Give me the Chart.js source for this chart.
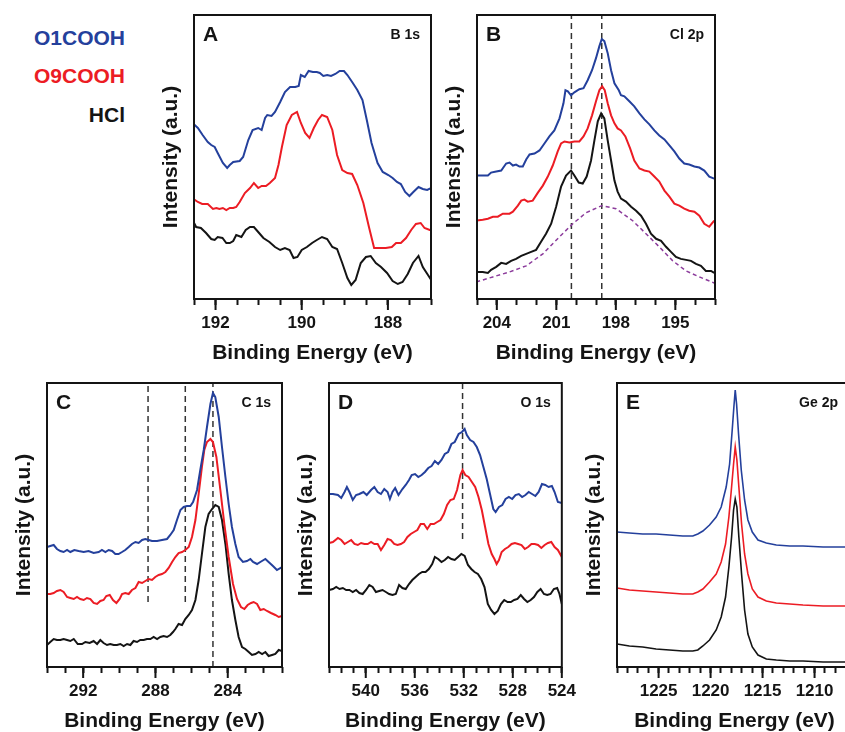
<!DOCTYPE html>
<html>
<head>
<meta charset="utf-8">
<script src="https://cdn.jsdelivr.net/npm/chart.js@4.4.1/dist/chart.umd.min.js"></script>
<style>
  html, body { margin: 0; padding: 0; background: #fff; overflow: hidden; }
  #wrap { position: relative; width: 845px; height: 732px; overflow: hidden; }
  #wrap canvas { position: absolute; }
  .key { position: absolute; left: 0; width: 125px; text-align: right; line-height: 24px;
         font: bold 21px "Liberation Sans", Arial, sans-serif; }
</style>
</head>
<body>
<div id="wrap">
  <div class="key" style="top:26px; color:#24409c">O1COOH</div>
  <div class="key" style="top:64px; color:#ec1c24">O9COOH</div>
  <div class="key" style="top:103px; color:#141414">HCl</div>
</div>
<script>
// ---- data: [binding energy (eV), intensity (a.u.)] ----
const seriesNames = ['O1COOH', 'O9COOH', 'HCl'];

// A: B 1s
const A_O1COOH = [[192.51,175],[192.41,171],[192.30,164],[192.18,157],[192.10,154],[192.02,152],[191.95,146],[191.83,136],[191.73,131],[191.67,134],[191.59,137],[191.44,138],[191.36,142],[191.24,159],[191.14,169],[191.01,171],[190.93,169],[190.85,181],[190.80,184],[190.70,183],[190.62,187],[190.50,197],[190.39,207],[190.27,212],[190.15,212],[190.07,213],[190.02,224],[189.93,222],[189.84,228],[189.74,227],[189.65,227],[189.58,226],[189.50,223],[189.41,224],[189.32,223],[189.22,225],[189.12,228],[189.02,228],[188.94,224],[188.83,217],[188.71,209],[188.59,199],[188.49,179],[188.38,156],[188.24,136],[188.12,127],[187.99,124],[187.89,121],[187.79,117],[187.70,115],[187.60,107],[187.50,103],[187.41,107],[187.29,112],[187.19,110],[187.09,109],[186.99,111]];
const A_O9COOH = [[192.51,100],[192.41,97],[192.31,95],[192.18,95],[192.06,90],[191.98,91],[191.91,90],[191.83,91],[191.75,89],[191.67,91],[191.59,91],[191.52,92],[191.44,97],[191.32,106],[191.20,111],[191.11,116],[191.01,111],[190.93,113],[190.83,113],[190.74,116],[190.62,121],[190.54,134],[190.46,152],[190.35,174],[190.23,184],[190.11,187],[190.02,176],[189.92,166],[189.82,161],[189.72,171],[189.62,179],[189.53,184],[189.41,182],[189.29,169],[189.18,144],[189.06,129],[188.94,126],[188.83,125],[188.71,114],[188.57,96],[188.44,72],[188.32,51],[188.16,51],[188.05,51],[187.91,52],[187.81,56],[187.70,56],[187.58,61],[187.46,69],[187.35,75],[187.24,76],[187.15,71],[187.03,69],[186.98,69]];
const A_HCl = [[192.51,77],[192.45,72],[192.34,71],[192.22,66],[192.10,60],[192.02,59],[191.95,62],[191.84,61],[191.75,56],[191.67,56],[191.59,58],[191.52,64],[191.40,62],[191.30,69],[191.20,72],[191.11,72],[191.01,67],[190.89,61],[190.75,57],[190.62,52],[190.50,49],[190.39,51],[190.28,49],[190.19,41],[190.10,42],[190.00,49],[189.88,52],[189.76,56],[189.65,59],[189.53,62],[189.41,60],[189.29,52],[189.18,50],[189.06,36],[188.94,21],[188.85,14],[188.75,19],[188.63,36],[188.51,42],[188.40,43],[188.28,36],[188.16,32],[188.02,26],[187.89,18],[187.77,15],[187.66,17],[187.54,25],[187.42,36],[187.29,43],[187.19,32],[187.07,24],[186.98,18]];

// B: Cl 2p
const B_O1COOH = [[205.04,123],[204.71,123],[204.45,123],[204.29,126],[204.03,127],[203.78,128],[203.53,135],[203.36,136],[203.19,133],[203.03,134],[202.86,132],[202.69,132],[202.52,139],[202.35,144],[202.10,145],[201.85,148],[201.60,155],[201.35,162],[201.10,168],[200.84,180],[200.64,195],[200.54,208],[200.42,207],[200.26,203],[200.09,206],[199.84,209],[199.63,210],[199.42,218],[199.20,228],[199.00,240],[198.83,252],[198.71,259],[198.58,257],[198.41,245],[198.24,228],[198.07,215],[197.85,208],[197.74,203],[197.57,202],[197.32,197],[197.07,192],[196.81,185],[196.56,179],[196.31,174],[196.06,168],[195.81,163],[195.55,159],[195.30,153],[195.05,147],[194.80,140],[194.55,135],[194.30,134],[194.04,132],[193.79,131],[193.54,128],[193.29,122],[193.04,120]];
const B_O9COOH = [[205.04,78],[204.71,79],[204.45,80],[204.20,82],[203.95,82],[203.70,85],[203.36,85],[203.19,87],[202.94,93],[202.77,98],[202.61,99],[202.44,97],[202.19,98],[201.93,106],[201.68,113],[201.43,122],[201.18,133],[200.93,147],[200.76,155],[200.59,157],[200.34,156],[200.09,157],[199.84,157],[199.63,162],[199.42,170],[199.20,183],[199.00,197],[198.83,208],[198.69,212],[198.56,208],[198.41,195],[198.24,183],[198.07,175],[197.91,170],[197.74,168],[197.52,162],[197.28,150],[197.07,138],[196.81,130],[196.56,128],[196.31,127],[196.06,122],[195.81,117],[195.55,108],[195.30,102],[195.05,95],[194.80,93],[194.55,90],[194.30,88],[194.04,87],[193.79,83],[193.54,75],[193.29,72],[193.04,78]];
const B_HCl = [[205.04,27],[204.71,27],[204.45,26],[204.29,29],[204.03,32],[203.78,36],[203.53,35],[203.28,38],[203.03,40],[202.77,43],[202.52,45],[202.27,47],[202.02,49],[201.77,57],[201.52,65],[201.26,75],[201.01,92],[200.76,112],[200.51,123],[200.26,128],[200.09,123],[199.87,116],[199.67,115],[199.47,122],[199.25,138],[199.08,158],[198.91,177],[198.74,185],[198.58,180],[198.41,158],[198.24,138],[198.07,118],[197.91,107],[197.74,100],[197.49,97],[197.23,92],[196.98,88],[196.73,83],[196.48,75],[196.23,65],[195.97,60],[195.72,58],[195.47,52],[195.22,47],[194.97,42],[194.72,40],[194.46,39],[194.21,38],[193.96,35],[193.71,33],[193.46,28],[193.20,28],[193.04,26]];
const B_background = [[205.04,17],[204.20,22],[203.36,27],[202.52,33],[201.68,45],[200.84,62],[200.17,75],[199.50,86],[198.71,93],[197.99,90],[197.15,78],[196.48,65],[195.81,52],[195.13,38],[194.46,28],[193.79,22],[193.04,16]];
const B_marks = [200.24, 198.71];

// C: C 1s
const C_O1COOH = [[294.00,120],[293.82,121],[293.63,122],[293.45,118],[293.26,116],[293.08,115],[292.89,117],[292.71,115],[292.49,117],[292.25,116],[291.97,115],[291.70,116],[291.42,114],[291.14,115],[290.96,117],[290.77,115],[290.59,117],[290.40,116],[290.22,113],[290.04,113],[289.85,115],[289.67,117],[289.48,120],[289.30,123],[289.11,125],[288.93,124],[288.74,127],[288.56,128],[288.38,127],[288.19,126],[287.91,126],[287.64,127],[287.36,128],[287.18,132],[286.99,137],[286.81,147],[286.62,157],[286.44,160],[286.26,161],[286.07,161],[285.92,165],[285.70,177],[285.52,197],[285.33,217],[285.15,240],[284.96,263],[284.82,274],[284.69,270],[284.50,250],[284.32,220],[284.13,190],[283.95,163],[283.77,140],[283.58,123],[283.40,110],[283.16,105],[282.94,106],[282.75,108],[282.60,105],[282.38,103],[282.20,105],[281.92,108],[281.74,105],[281.50,101],[281.28,97],[281.00,100]];
const C_O9COOH = [[294.00,73],[293.82,73],[293.63,74],[293.45,76],[293.26,77],[293.08,75],[292.89,70],[292.71,69],[292.52,68],[292.34,70],[292.16,68],[291.97,67],[291.79,69],[291.60,68],[291.42,64],[291.23,63],[291.05,66],[290.87,67],[290.72,71],[290.53,72],[290.35,67],[290.16,64],[289.98,68],[289.85,73],[289.67,74],[289.48,73],[289.30,77],[289.11,79],[288.93,85],[288.74,84],[288.56,86],[288.38,88],[288.19,87],[288.01,90],[287.82,92],[287.64,93],[287.45,95],[287.27,99],[287.08,105],[286.90,110],[286.72,114],[286.53,115],[286.35,117],[286.16,120],[285.98,130],[285.79,147],[285.61,173],[285.43,200],[285.30,217],[285.15,225],[284.96,228],[284.82,225],[284.63,210],[284.41,177],[284.19,143],[283.95,110],[283.71,83],[283.49,68],[283.27,60],[283.08,58],[282.90,62],[282.71,64],[282.57,65],[282.38,63],[282.20,57],[282.01,58],[281.83,56],[281.61,54],[281.37,52],[281.18,50],[281.00,51]];
const C_HCl = [[294.00,22],[293.82,25],[293.63,28],[293.45,27],[293.26,27],[293.08,28],[292.89,27],[292.71,26],[292.52,28],[292.30,23],[292.06,23],[291.88,25],[291.64,24],[291.42,26],[291.23,23],[291.05,27],[290.87,24],[290.68,22],[290.50,23],[290.31,22],[290.13,22],[289.94,23],[289.76,21],[289.57,23],[289.39,22],[289.21,26],[289.02,25],[288.84,27],[288.65,27],[288.47,28],[288.28,28],[288.10,30],[287.91,28],[287.73,30],[287.55,31],[287.36,30],[287.18,32],[287.03,35],[286.90,38],[286.72,43],[286.53,42],[286.35,48],[286.16,52],[285.98,57],[285.79,67],[285.61,87],[285.43,113],[285.24,140],[285.06,153],[284.87,158],[284.69,162],[284.50,160],[284.32,147],[284.13,123],[283.95,93],[283.77,67],[283.58,47],[283.40,30],[283.21,20],[283.03,18],[282.84,15],[282.66,12],[282.47,13],[282.29,15],[282.10,13],[281.92,15],[281.74,11],[281.55,12],[281.37,13],[281.18,17],[281.00,16]];
const C_marks = [288.41, 286.35, 284.82];
const C_markFrom = [65, 65, 0];

// D: O 1s
const D_O1COOH = [[543.00,173],[542.68,173],[542.27,172],[542.00,169],[541.73,175],[541.54,180],[541.33,175],[541.06,167],[540.79,172],[540.52,173],[540.19,175],[539.92,172],[539.57,177],[539.30,180],[539.03,175],[538.76,173],[538.49,178],[538.22,175],[538.03,168],[537.82,175],[537.60,179],[537.33,172],[537.01,178],[536.74,182],[536.47,187],[536.25,192],[535.98,193],[535.71,190],[535.44,192],[535.17,195],[534.90,199],[534.63,201],[534.36,206],[534.09,203],[533.82,207],[533.55,213],[533.28,215],[533.01,223],[532.74,225],[532.42,233],[532.15,235],[531.93,238],[531.75,232],[531.48,227],[531.21,225],[530.94,220],[530.67,212],[530.40,200],[530.13,188],[529.86,173],[529.59,158],[529.40,155],[529.13,160],[528.86,162],[528.59,168],[528.32,170],[528.05,168],[527.78,172],[527.51,173],[527.24,170],[526.97,172],[526.70,175],[526.43,173],[526.16,171],[525.89,175],[525.62,183],[525.35,182],[525.08,180],[524.81,181],[524.59,175],[524.32,165],[524.00,164]];
const D_O9COOH = [[543.00,124],[542.68,125],[542.27,129],[542.00,127],[541.73,123],[541.46,125],[541.19,127],[540.92,123],[540.65,122],[540.38,124],[540.11,123],[539.84,123],[539.57,125],[539.30,123],[539.03,123],[538.76,117],[538.49,122],[538.22,128],[537.95,127],[537.68,123],[537.41,122],[537.14,123],[536.87,125],[536.60,130],[536.33,133],[536.06,135],[535.79,137],[535.52,143],[535.25,143],[534.98,138],[534.71,143],[534.44,143],[534.17,145],[533.90,147],[533.63,153],[533.36,162],[533.09,167],[532.82,168],[532.55,177],[532.28,192],[532.10,197],[531.88,192],[531.61,190],[531.34,185],[531.07,180],[530.80,170],[530.53,157],[530.26,140],[529.99,123],[529.72,113],[529.50,108],[529.32,103],[529.13,107],[528.91,115],[528.64,118],[528.37,120],[528.10,123],[527.83,124],[527.56,123],[527.29,122],[527.02,118],[526.75,120],[526.48,123],[526.21,123],[525.94,122],[525.67,119],[525.40,122],[525.13,124],[524.86,125],[524.59,120],[524.32,117],[524.00,110]];
const D_HCl = [[543.00,77],[542.68,78],[542.41,80],[542.14,78],[541.87,79],[541.60,77],[541.33,77],[541.06,75],[540.79,77],[540.52,74],[540.25,73],[539.98,77],[539.71,82],[539.44,80],[539.17,75],[538.90,76],[538.63,77],[538.36,75],[538.09,73],[537.82,72],[537.55,73],[537.28,82],[537.01,79],[536.74,78],[536.47,83],[536.20,87],[535.93,90],[535.66,93],[535.39,95],[535.12,95],[534.85,98],[534.58,103],[534.36,110],[534.09,108],[533.82,105],[533.55,107],[533.28,110],[533.01,108],[532.74,107],[532.47,110],[532.20,113],[531.93,111],[531.66,102],[531.39,98],[531.12,95],[530.85,93],[530.58,88],[530.31,80],[530.04,63],[529.77,57],[529.50,53],[529.23,56],[528.97,63],[528.70,67],[528.43,65],[528.16,65],[527.89,67],[527.62,68],[527.35,72],[527.08,68],[526.81,65],[526.54,67],[526.27,70],[526.00,75],[525.73,78],[525.46,73],[525.19,72],[524.92,73],[524.65,78],[524.38,79],[524.19,73],[524.00,63]];
const D_marks = [532.1];
const D_markFrom = [128];

// E: Ge 2p
const E_O1COOH = [[1229.00,135],[1227.81,134],[1226.53,133],[1225.24,133],[1223.96,132],[1222.67,131],[1221.71,131],[1221.23,133],[1220.74,136],[1220.10,142],[1219.46,150],[1218.98,160],[1218.50,180],[1218.17,203],[1217.92,237],[1217.76,260],[1217.63,277],[1217.50,263],[1217.31,233],[1217.05,197],[1216.73,167],[1216.41,147],[1215.99,135],[1215.44,127],[1214.64,124],[1213.68,122],[1212.39,121],[1211.11,121],[1209.18,120],[1206.40,120]];
const E_O9COOH = [[1229.00,79],[1227.81,77],[1226.53,76],[1225.24,75],[1223.96,74],[1222.67,73],[1221.71,73],[1221.23,75],[1220.74,78],[1220.10,85],[1219.46,93],[1218.98,105],[1218.56,123],[1218.24,150],[1217.98,180],[1217.79,203],[1217.63,220],[1217.47,207],[1217.28,180],[1217.02,143],[1216.73,113],[1216.41,93],[1215.99,78],[1215.44,70],[1214.64,66],[1213.68,64],[1212.39,63],[1211.11,62],[1209.18,61],[1206.40,61]];
const E_HCl = [[1229.00,23],[1227.81,21],[1226.53,20],[1225.24,18],[1223.96,17],[1222.67,16],[1221.71,16],[1221.23,17],[1220.74,21],[1220.10,27],[1219.46,37],[1218.98,50],[1218.56,70],[1218.24,100],[1217.98,130],[1217.79,157],[1217.63,168],[1217.47,160],[1217.28,130],[1217.02,93],[1216.73,57],[1216.41,33],[1215.99,20],[1215.44,12],[1214.64,8],[1213.68,7],[1212.39,6],[1211.11,6],[1209.18,5],[1206.40,5]];

// labelled ticks on each energy axis
const A_ticks = [192, 190, 188];
const B_ticks = [204, 201, 198, 195];
const C_ticks = [292, 288, 284];
const D_ticks = [540, 536, 532, 528, 524];
const E_ticks = [1225, 1220, 1215, 1210];

// ---- drawing ----
const FONT = '"Liberation Sans", Arial, Helvetica, sans-serif';
const INK = '#141414';
const COLORS = ['#24409c', '#ec1c24', INK];
Chart.defaults.font.family = FONT;
Chart.defaults.color = INK;

// plot box, long marks at labelled ticks, panel letter and core level
const frame = {
  id: 'frame',
  afterDraw(chart, args, opts) {
    const { ctx, chartArea: a, scales: { x } } = chart;
    ctx.save();
    ctx.strokeStyle = INK;
    ctx.lineWidth = 2;
    ctx.strokeRect(a.left, a.top, a.right - a.left, a.bottom - a.top);
    ctx.beginPath();
    opts.major.forEach(v => {
      const px = x.getPixelForValue(v);
      ctx.moveTo(px, a.bottom);
      ctx.lineTo(px, a.bottom + 11);
    });
    ctx.stroke();
    ctx.fillStyle = INK;
    ctx.textBaseline = 'top';
    ctx.textAlign = 'left';
    ctx.font = 'bold 21px ' + FONT;
    ctx.fillText(opts.letter, a.left + 9, a.top + 10);
    ctx.textAlign = 'right';
    ctx.font = 'bold 14px ' + FONT;
    ctx.fillText(opts.core, opts.coreRight ? a.left + opts.coreRight : a.right - 11, a.top + 13);
    ctx.restore();
  }
};

// E runs off the right edge of the figure, like the original
const panels = [
  { letter: 'A', core: 'B 1s', box: [194, 431, 15, 299], xMin: 187, xMax: 192.5, step: 0.5, major: A_ticks, yMax: 284,
    series: [A_O1COOH, A_O9COOH, A_HCl], lw: 2 },
  { letter: 'B', core: 'Cl 2p', box: [477, 715, 15, 299], xMin: 193, xMax: 205, step: 1, major: B_ticks, yMax: 283,
    series: [B_O1COOH, B_O9COOH, B_HCl], lw: 2, background: B_background, marks: B_marks, markFrom: [0, 0] },
  { letter: 'C', core: 'C 1s', box: [47, 282, 383, 667], xMin: 281, xMax: 294, step: 1, major: C_ticks, yMax: 284,
    series: [C_O1COOH, C_O9COOH, C_HCl], lw: 2, marks: C_marks, markFrom: C_markFrom },
  { letter: 'D', core: 'O 1s', box: [329, 564, 383, 667], xMin: 524, xMax: 543, step: 1, major: D_ticks, yMax: 284,
    series: [D_O1COOH, D_O9COOH, D_HCl], lw: 2, marks: D_marks, markFrom: D_markFrom },
  { letter: 'E', core: 'Ge 2p', box: [617, 852, 383, 667], xMin: 1206.4, xMax: 1229, step: 1, major: E_ticks, yMax: 284,
    series: [E_O1COOH, E_O9COOH, E_HCl], lw: 1.6, coreRight: 221 }
];

const wrap = document.getElementById('wrap');
const toXY = s => s.map(([x, y]) => ({ x, y }));

panels.forEach(p => {
  const [L, R, T, B] = p.box;
  const cv = document.createElement('canvas');
  cv.width = 35 + (R - L) + 20;
  cv.height = 5 + (B - T) + 67;
  cv.style.left = (L - 35) + 'px';
  cv.style.top = (T - 5) + 'px';
  wrap.appendChild(cv);

  const datasets = p.series.map((s, i) => ({
    label: seriesNames[i], data: toXY(s), borderColor: COLORS[i], borderWidth: p.lw
  }));
  if (p.background) {
    datasets.push({ label: 'background', data: toXY(p.background), borderColor: '#8c3c9c',
      borderWidth: 1.5, borderDash: [4, 3] });
  }
  (p.marks || []).forEach((m, i) => {
    datasets.push({ label: 'mark', data: [{ x: m, y: p.markFrom[i] }, { x: m, y: p.yMax }],
      borderColor: '#333', borderWidth: 1.5, borderDash: [6, 4] });
  });

  new Chart(cv, {
    type: 'line',
    data: { datasets },
    options: {
      responsive: false,
      animation: false,
      events: [],
      elements: { point: { radius: 0 }, line: { tension: 0 } },
      layout: { padding: { top: 5, right: 20, left: 0, bottom: 0 } },
      plugins: {
        legend: { display: false },
        tooltip: { enabled: false },
        frame: { letter: p.letter, core: p.core, major: p.major, coreRight: p.coreRight }
      },
      scales: {
        x: {
          type: 'linear', reverse: true, min: p.xMin, max: p.xMax,
          afterFit: s => { s.height = 67; },
          border: { display: false },
          grid: { drawOnChartArea: false, drawTicks: true, tickLength: 6, tickWidth: 2, tickColor: INK },
          ticks: {
            stepSize: p.step, autoSkip: false, maxRotation: 0, minRotation: 0, padding: 8,
            font: { size: 17, weight: 'bold' }, color: INK,
            callback: v => (p.major.includes(v) ? String(v) : '')
          },
          title: { display: true, text: 'Binding Energy (eV)', padding: 0,
            font: { size: 21, weight: 'bold' }, color: INK }
        },
        y: {
          type: 'linear', min: 0, max: p.yMax,
          afterFit: s => { s.width = 35; },
          border: { display: false },
          grid: { display: false },
          ticks: { display: false },
          title: { display: true, text: 'Intensity (a.u.)', padding: 0,
            font: { size: 21, weight: 'bold' }, color: INK }
        }
      }
    },
    plugins: [frame]
  });
});
</script>
</body>
</html>
